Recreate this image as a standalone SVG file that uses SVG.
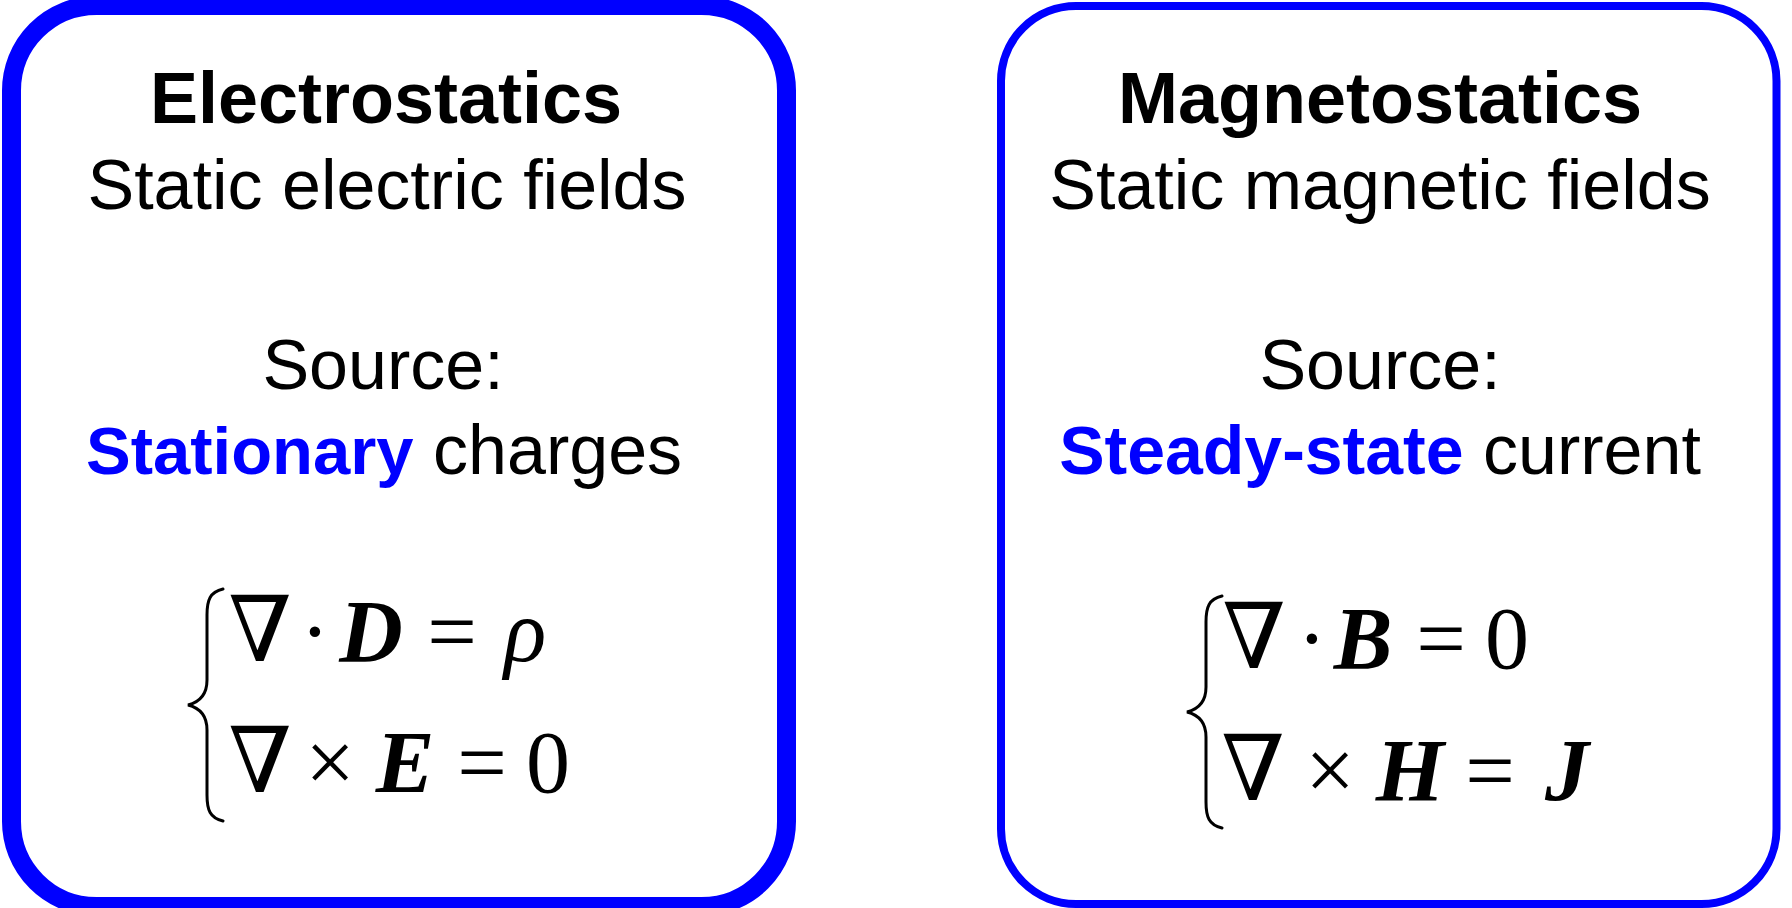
<svg xmlns="http://www.w3.org/2000/svg" width="1792" height="908" viewBox="0 0 1792 908">
<style>
.t{font-family:"Liberation Sans","Helvetica Neue",Arial,sans-serif;text-anchor:middle;fill:#000}
.h{font-weight:bold;font-size:72px}
.r{font-size:70px}
.b{fill:#0000ff;font-weight:bold}
.m{font-family:"Liberation Serif","Times New Roman","DejaVu Serif",serif;font-size:88px;text-anchor:middle;fill:#000}
.n{font-family:"DejaVu Serif","Liberation Serif",serif;font-size:91px;text-anchor:middle;fill:#000}
.v{font-weight:bold;font-style:italic}
.i{font-style:italic}
.br{fill:none;stroke:#000;stroke-width:3;stroke-linecap:round}
</style>
<rect width="1792" height="908" fill="#fff"/>
<g id="electrostatics">
<rect x="11.5" y="5.5" width="775" height="901" rx="85" ry="85" fill="none" stroke="#0000ff" stroke-width="19"/>
<text class="t h" x="386" y="123">Electrostatics</text>
<text class="t r" x="387" y="209">Static electric fields</text>
<text class="t r" x="383" y="389">Source:</text>
<text class="t r" x="384" y="474"><tspan class="b" font-size="67">Stationary</tspan> charges</text>
<path class="br" d="M223,589 C210,592 207,600 207,615 L207,680 C207,695 200,702 188,705 C200,708 207,715 207,730 L207,795 C207,810 210,818 223,821"/>
<text class="n" x="260" y="661">∇</text>
<text class="m" x="315" y="661">·</text>
<text class="m v" x="371" y="661">D</text>
<text class="m" x="452" y="661">=</text>
<text class="m i" x="525" y="661" font-size="94">ρ</text>
<text class="n" x="260" y="792">∇</text>
<text class="m" x="330" y="792" font-size="92">×</text>
<text class="m v" x="405" y="792">E</text>
<text class="m" x="482" y="792">=</text>
<text class="m" x="548" y="792">0</text>
</g>
<g id="magnetostatics">
<rect x="1001" y="6" width="775.5" height="898" rx="75" ry="75" fill="none" stroke="#0000ff" stroke-width="8"/>
<text class="t h" x="1380" y="123">Magnetostatics</text>
<text class="t r" x="1380" y="209">Static magnetic fields</text>
<text class="t r" x="1380" y="389">Source:</text>
<text class="t r" x="1380" y="474"><tspan class="b" font-size="68">Steady-state</tspan> current</text>
<path class="br" d="M1222,596 C1209,599 1206,607 1206,622 L1206,687 C1206,702 1199,709 1187,712 C1199,715 1206,722 1206,737 L1206,802 C1206,817 1209,825 1222,828"/>
<text class="n" x="1254" y="668">∇</text>
<text class="m" x="1312" y="668">·</text>
<text class="m v" x="1363" y="668">B</text>
<text class="m" x="1441" y="668">=</text>
<text class="m" x="1507" y="668">0</text>
<text class="n" x="1253" y="800">∇</text>
<text class="m" x="1330" y="800" font-size="92">×</text>
<text class="m v" x="1410" y="800">H</text>
<text class="m" x="1490" y="800">=</text>
<text class="m v" x="1567" y="800">J</text>
</g>
<g id="connectors"/>
</svg>
